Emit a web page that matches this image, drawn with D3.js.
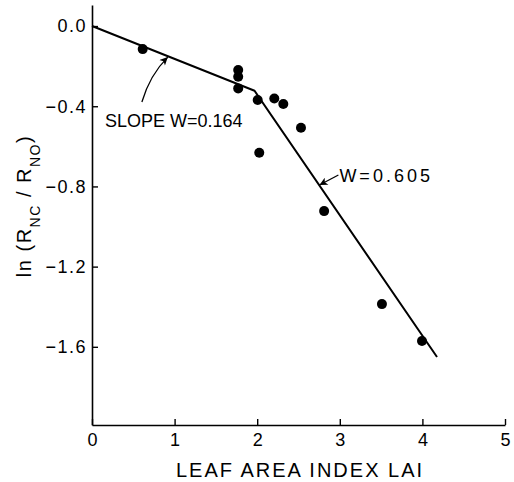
<!DOCTYPE html>
<html>
<head>
<meta charset="utf-8">
<script src="https://cdn.jsdelivr.net/npm/d3@7"></script>
<style>
  html, body { margin: 0; padding: 0; background: #fff; }
  svg { display: block; font-family: "Liberation Sans", Arial, sans-serif; }
</style>
</head>
<body>
<svg id="chart" width="514" height="482"></svg>
<script>
// ---- data ----
const laiValues = [0.614, 1.77, 1.77, 1.77, 2.006, 2.025, 2.207, 2.316, 2.53, 2.81, 3.51, 3.995];
const lnRatioValues = [-0.115, -0.219, -0.253, -0.311, -0.369, -0.632, -0.361, -0.389, -0.507, -0.923, -1.387, -1.571];
const fitLai = [0, 1.968, 4.177];
const fitLnRatio = [0, -0.323, -1.651];
const xTickValues = [0, 1, 2, 3, 4, 5];
const xTickLabels = ["0", "1", "2", "3", "4", "5"];
const yTickValues = [0, -0.4, -0.8, -1.2, -1.6];
const yTickLabels = ["0.0", "\u22120.4", "\u22120.8", "\u22121.2", "\u22121.6"];
const slopeLabel = "SLOPE W=0.164";
const slopeLabelPos = [0.157, -0.502];
const slopeArrow = [[0.604, -0.379], [0.70, -0.244], [0.918, -0.155]];
const wLabel = "W=0.605";
const wLabelPos = [2.995, -0.777];
const wArrow = [[2.983, -0.743], [2.754, -0.793]];
const xTitle = "LEAF AREA INDEX LAI";

// ---- scales ----
const svg = d3.select("#chart");
svg.append("rect").attr("width", 514).attr("height", 482).attr("fill", "#fff");

const x = d3.scaleLinear().domain([0, 5]).range([92, 505]);
const y = d3.scaleLinear().domain([-1.99, 0.105]).range([425, 5]);

// arrowhead marker
svg.append("defs").append("marker")
  .attr("id", "arrow")
  .attr("markerUnits", "userSpaceOnUse")
  .attr("viewBox", "0 0 10 10")
  .attr("refX", 10).attr("refY", 5)
  .attr("markerWidth", 10).attr("markerHeight", 8)
  .attr("orient", "auto")
  .append("path").attr("d", "M0,0 L10,5 L0,10 L2.5,5 Z").attr("fill", "#000");

// ---- axes ----
const yAxis = d3.axisLeft(y)
  .tickValues(yTickValues)
  .tickFormat((d, i) => yTickLabels[i])
  .tickSizeInner(-6).tickSizeOuter(0).tickPadding(5);
const gy = svg.append("g").attr("transform", `translate(${x(0)},0)`).call(yAxis);

const xAxis = d3.axisBottom(x)
  .tickValues(xTickValues)
  .tickFormat((d, i) => xTickLabels[i])
  .tickSizeInner(-6).tickSizeOuter(0).tickPadding(8);
const gx = svg.append("g").attr("transform", `translate(0,${y.range()[0]})`).call(xAxis);

[gx, gy].forEach(g => {
  g.select(".domain").attr("stroke", "#000").attr("stroke-width", 1.6);
  g.selectAll(".tick line").attr("stroke", "#000").attr("stroke-width", 1.4);
  g.selectAll(".tick text")
    .attr("fill", "#000")
    .style("font-size", "18px")
    .style("font-family", "'Liberation Sans', Arial, sans-serif");
});
gy.selectAll(".tick text").style("letter-spacing", "1.5px");

// ---- fit line ----
const fitData = fitLai.map((v, i) => [v, fitLnRatio[i]]);
svg.append("path")
  .datum(fitData)
  .attr("d", d3.line().x(d => x(d[0])).y(d => y(d[1])))
  .attr("fill", "none").attr("stroke", "#000")
  .attr("stroke-width", 2).attr("stroke-linejoin", "round");

// ---- points ----
svg.append("g").selectAll("circle")
  .data(laiValues.map((v, i) => [v, lnRatioValues[i]]))
  .join("circle")
  .attr("cx", d => x(d[0])).attr("cy", d => y(d[1]))
  .attr("r", 5).attr("fill", "#000");

// ---- annotations ----
svg.append("text")
  .attr("x", x(slopeLabelPos[0])).attr("y", y(slopeLabelPos[1]))
  .attr("font-size", 18).attr("fill", "#000")
  .text(slopeLabel);
svg.append("path")
  .attr("d", `M${x(slopeArrow[0][0])},${y(slopeArrow[0][1])} Q${x(slopeArrow[1][0])},${y(slopeArrow[1][1])} ${x(slopeArrow[2][0])},${y(slopeArrow[2][1])}`)
  .attr("fill", "none").attr("stroke", "#000").attr("stroke-width", 1.3)
  .attr("marker-end", "url(#arrow)");

svg.append("text")
  .attr("x", x(wLabelPos[0])).attr("y", y(wLabelPos[1]))
  .attr("font-size", 18).attr("fill", "#000")
  .style("letter-spacing", "3px")
  .text(wLabel);
svg.append("path")
  .attr("d", `M${x(wArrow[0][0])},${y(wArrow[0][1])} L${x(wArrow[1][0])},${y(wArrow[1][1])}`)
  .attr("fill", "none").attr("stroke", "#000").attr("stroke-width", 1.3)
  .attr("marker-end", "url(#arrow)");

// ---- axis titles ----
svg.append("text")
  .attr("x", 300).attr("y", 477)
  .attr("text-anchor", "middle")
  .attr("font-size", 20).attr("fill", "#000")
  .style("letter-spacing", "2px")
  .text(xTitle);

const yt = svg.append("text")
  .attr("transform", "translate(31,206) rotate(-90)")
  .attr("text-anchor", "middle")
  .attr("font-size", 20).attr("fill", "#000")
  .style("letter-spacing", "1.5px");
yt.append("tspan").text("ln (R");
yt.append("tspan").attr("font-size", 14).attr("dy", 9).text("NC");
yt.append("tspan").attr("dy", -9).text(" / R");
yt.append("tspan").attr("font-size", 14).attr("dy", 9).text("NO");
yt.append("tspan").attr("dy", -9).text(")");
</script>
</body>
</html>
